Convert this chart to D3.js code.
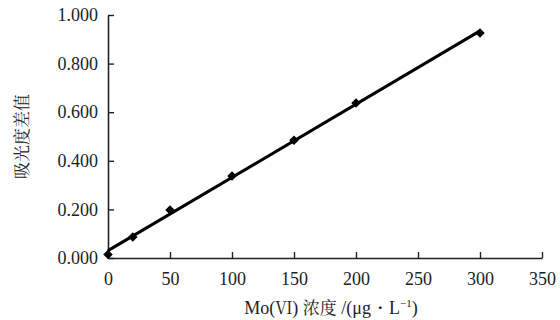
<!DOCTYPE html>
<html>
<head>
<meta charset="utf-8">
<script src="https://cdn.jsdelivr.net/npm/d3@7"></script>
<style>
  html, body { margin: 0; padding: 0; background: #fff; }
  svg { display: block; }
</style>
</head>
<body>
<svg id="chart" width="560" height="320"></svg>
<script>
// Data
const concentrations = [0, 20, 50, 100, 150, 200, 300];
const absorbanceDiff = [0.014, 0.086, 0.198, 0.337, 0.485, 0.638, 0.926];
const xTicks = [0, 50, 100, 150, 200, 250, 300, 350];
const yTicks = [0, 0.2, 0.4, 0.6, 0.8, 1.0];

const svg = d3.select("#chart");
const x = d3.scaleLinear().domain([0, 350]).range([108, 542]);
const y = d3.scaleLinear().domain([0, 1]).range([258, 15]);

const serif = "Liberation Serif, DejaVu Serif, serif";
const cjkSerif = "Noto Serif CJK SC, Noto Sans CJK SC, serif";
const axisColor = "#222";

// Y axis
const yAxis = svg.append("g")
  .attr("transform", `translate(${x(0)},0)`)
  .call(d3.axisLeft(y).tickValues(yTicks).tickFormat(d3.format(".3f"))
    .tickSizeInner(-6).tickSizeOuter(0).tickPadding(10));
// X axis
const xAxis = svg.append("g")
  .attr("transform", `translate(0,${y(0)})`)
  .call(d3.axisBottom(x).tickValues(xTicks).tickFormat(d3.format("d"))
    .tickSizeInner(-6).tickSizeOuter(0).tickPadding(14));

[yAxis, xAxis].forEach(g => {
  g.attr("font-family", serif).attr("font-size", 18);
  g.select(".domain").attr("stroke", axisColor).attr("stroke-width", 1.6);
  g.selectAll(".tick line").attr("stroke", axisColor).attr("stroke-width", 1.4);
  g.selectAll(".tick text").attr("fill", "#222");
});

// Linear fit computed from the data
const n = concentrations.length;
const mx = d3.mean(concentrations), my = d3.mean(absorbanceDiff);
let sxy = 0, sxx = 0;
for (let i = 0; i < n; i++) {
  sxy += (concentrations[i] - mx) * (absorbanceDiff[i] - my);
  sxx += (concentrations[i] - mx) ** 2;
}
const slope = sxy / sxx, intercept = my - slope * mx;
const fitX = [d3.min(concentrations), d3.max(concentrations)];

svg.append("path")
  .datum(fitX)
  .attr("fill", "none")
  .attr("stroke", "#000")
  .attr("stroke-width", 3)
  .attr("d", d3.line().x(d => x(d)).y(d => y(intercept + slope * d)));

// Markers (diamonds)
svg.append("g").selectAll("path")
  .data(concentrations.map((c, i) => [c, absorbanceDiff[i]]))
  .join("path")
  .attr("d", d3.symbol(d3.symbolSquare, 45))
  .attr("transform", d => `translate(${x(d[0])},${y(d[1])}) rotate(45)`)
  .attr("fill", "#000");

// Axis titles
svg.append("text")
  .attr("transform", `translate(20,${(y(0) + y(1)) / 2}) rotate(-90)`)
  .attr("text-anchor", "middle")
  .attr("dominant-baseline", "central")
  .attr("font-family", cjkSerif)
  .attr("font-size", 17)
  .attr("fill", "#222")
  .text("吸光度差值");

const xt = svg.append("text")
  .attr("font-family", serif)
  .attr("x", 331)
  .attr("y", 314)
  .attr("text-anchor", "middle")
  .attr("font-size", 18)
  .attr("fill", "#222");
xt.append("tspan").text("Mo(");
xt.append("tspan").attr("font-family", cjkSerif).attr("font-size", 17).text("Ⅵ");
xt.append("tspan").text(") ");
xt.append("tspan").attr("font-family", cjkSerif).attr("font-size", 17).text("浓度");
xt.append("tspan").text(" /(μg・L");
xt.append("tspan").attr("dy", -7).attr("font-size", 11).text("−1");
xt.append("tspan").attr("dy", 7).text(")");
</script>
</body>
</html>
